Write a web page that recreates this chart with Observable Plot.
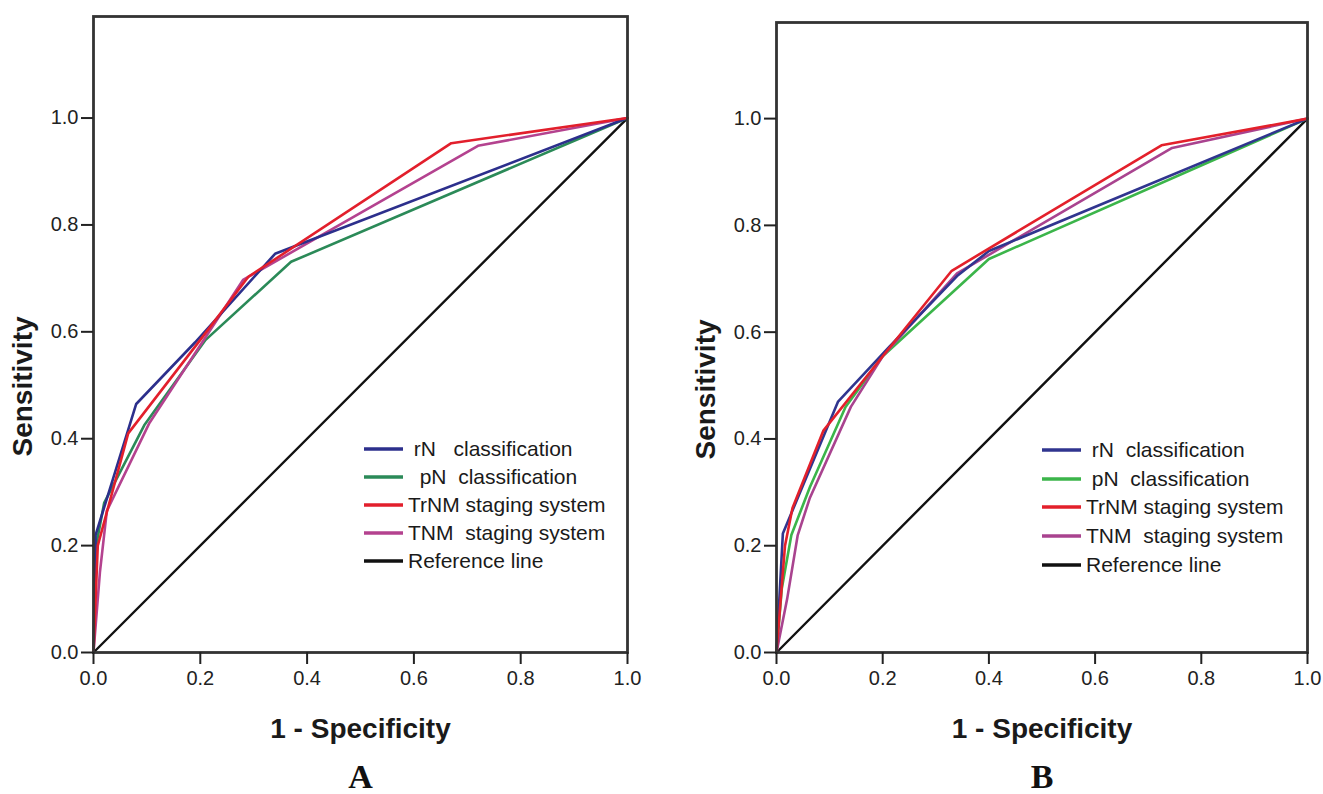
<!DOCTYPE html>
<html>
<head>
<meta charset="utf-8">
<script src="https://cdn.jsdelivr.net/npm/d3@7"></script>
<script src="https://cdn.jsdelivr.net/npm/@observablehq/plot@0.6"></script>
<style>
  html, body { margin: 0; padding: 0; background: #fff; }
  #wrap { position: relative; width: 1323px; height: 794px; overflow: hidden; background: #fff; }
  .panel { position: absolute; top: 0; }
  .legend { position: absolute; font-family: "Liberation Sans", Arial, sans-serif; font-size: 21px; color: #1a1a1a; }
  .legend .row { position: absolute; left: 0; height: 28px; line-height: 28px; white-space: pre; display: flex; align-items: center; }
  .legend svg { display: block; }
</style>
</head>
<body>
<div id="wrap"></div>
<script>
// ---------- data ----------
const ticks = [0, 0.2, 0.4, 0.6, 0.8, 1.0];
const seriesNames = ["rN classification", "pN classification", "TrNM staging system", "TNM staging system", "Reference line"];
const legendLabelsA = [" rN   classification", "  pN  classification", "TrNM staging system", "TNM  staging system", "Reference line"];
const legendLabelsB = [" rN  classification", " pN  classification", "TrNM staging system", "TNM  staging system", "Reference line"];
const panelLetters = ["A", "B"];
const colorsA = ["#2c2f8c", "#2b8a58", "#e21f2c", "#b4428f", "#111111"];
const colorsB = ["#30358f", "#3bb54a", "#e3202b", "#a9438f", "#111111"];

// Panel A : [1 - specificity, sensitivity]
const A_rN   = [[0,0],[0.004,0.22],[0.08,0.465],[0.19,0.58],[0.34,0.746],[1,1]];
const A_pN   = [[0,0],[0.005,0.2],[0.02,0.28],[0.095,0.425],[0.21,0.585],[0.37,0.731],[1,1]];
const A_TrNM = [[0,0],[0.008,0.2],[0.065,0.41],[0.2,0.585],[0.29,0.703],[0.67,0.953],[1,1]];
const A_TNM  = [[0,0],[0.012,0.15],[0.025,0.265],[0.105,0.43],[0.28,0.697],[0.72,0.948],[1,1]];
// Panel B
const B_rN   = [[0,0],[0.012,0.223],[0.116,0.47],[0.21,0.57],[0.34,0.705],[0.4,0.752],[1,1]];
const B_pN   = [[0,0],[0.01,0.12],[0.028,0.22],[0.063,0.31],[0.13,0.46],[0.2,0.555],[0.4,0.737],[1,1]];
const B_TrNM = [[0,0],[0.016,0.2],[0.03,0.27],[0.088,0.415],[0.2,0.555],[0.33,0.715],[0.725,0.95],[1,1]];
const B_TNM  = [[0,0],[0.02,0.1],[0.04,0.22],[0.063,0.29],[0.14,0.46],[0.2,0.555],[0.34,0.71],[0.745,0.945],[1,1]];
const refLine = [[0,0],[1,1]];

// ---------- drawing ----------
const wrap = document.getElementById("wrap");

function panel({left, width, marginLeft, marginRight, marginTop, yTop, series, colors, letter, legendLeft, legendTop, legendStep, legendLabels}) {
  const order = [4, 1, 3, 0, 2]; // draw order: reference, pN, TNM, rN, TrNM
  const lineMarks = order.map(i => Plot.line(series[i], {
    x: d => d[0], y: d => d[1], stroke: colors[i], strokeWidth: i === 4 ? 2.4 : 2.6, strokeLinejoin: "round"
  }));
  const chart = Plot.plot({
    width, height: 794,
    marginLeft, marginRight, marginTop, marginBottom: 142,
    x: {domain: [0, 1]},
    y: {domain: [0, yTop]},
    style: {fontFamily: "'Liberation Sans', Arial, sans-serif", background: "transparent", overflow: "visible"},
    marks: [
      ...lineMarks,
      Plot.frame({stroke: "#333", strokeWidth: 2.8}),
      Plot.axisX({ticks, tickFormat: d3.format(".1f"), tickSize: 12, tickPadding: 6, fontSize: 20, label: null, color: "#222", strokeWidth: 2}),
      Plot.axisY({ticks, tickFormat: d3.format(".1f"), tickSize: 12, tickPadding: 3, fontSize: 20, label: null, color: "#222", strokeWidth: 2}),
      Plot.text(["1 - Specificity"], {frameAnchor: "bottom", dy: 85, lineAnchor: "bottom", textAnchor: "middle", fontSize: 28, fontWeight: "bold", fill: "#1a1a1a"}),
      Plot.text(["Sensitivity"], {frameAnchor: "left", dx: -70, dy: 52, rotate: -90, textAnchor: "middle", lineAnchor: "middle", fontSize: 28, fontWeight: "bold", fill: "#1a1a1a"}),
      Plot.text([letter], {frameAnchor: "bottom", dy: 135, lineAnchor: "bottom", textAnchor: "middle", fontSize: 34, fontWeight: "bold", fontFamily: "'Liberation Serif', 'Times New Roman', serif", fill: "#111"})
    ]
  });
  const holder = document.createElement("div");
  holder.className = "panel";
  holder.style.left = left + "px";
  holder.appendChild(chart);
  wrap.appendChild(holder);

  const leg = document.createElement("div");
  leg.className = "legend";
  leg.style.left = legendLeft + "px";
  leg.style.top = legendTop + "px";
  legendLabels.forEach((lab, i) => {
    const row = document.createElement("div");
    row.className = "row";
    row.style.top = (i * legendStep) + "px";
    const sw = document.createElementNS("http://www.w3.org/2000/svg", "svg");
    sw.setAttribute("width", 44); sw.setAttribute("height", 10);
    const ln = document.createElementNS("http://www.w3.org/2000/svg", "line");
    ln.setAttribute("x1", 0); ln.setAttribute("x2", 39); ln.setAttribute("y1", 5); ln.setAttribute("y2", 5);
    ln.setAttribute("stroke", colors[i]); ln.setAttribute("stroke-width", 3.4);
    sw.appendChild(ln);
    const tx = document.createElement("span");
    tx.textContent = lab;
    row.appendChild(sw); row.appendChild(tx);
    leg.appendChild(row);
  });
  wrap.appendChild(leg);
}

panel({left: 0, width: 660, marginLeft: 93, marginRight: 33, marginTop: 16, yTop: 1.19,
  series: [A_rN, A_pN, A_TrNM, A_TNM, refLine], colors: colorsA, letter: panelLetters[0],
  legendLeft: 364, legendTop: 435, legendStep: 28, legendLabels: legendLabelsA});
panel({left: 660, width: 663, marginLeft: 116, marginRight: 16, marginTop: 22, yTop: 1.18,
  series: [B_rN, B_pN, B_TrNM, B_TNM, refLine], colors: colorsB, letter: panelLetters[1],
  legendLeft: 1042, legendTop: 436, legendStep: 28.7, legendLabels: legendLabelsB});
</script>
</body>
</html>
